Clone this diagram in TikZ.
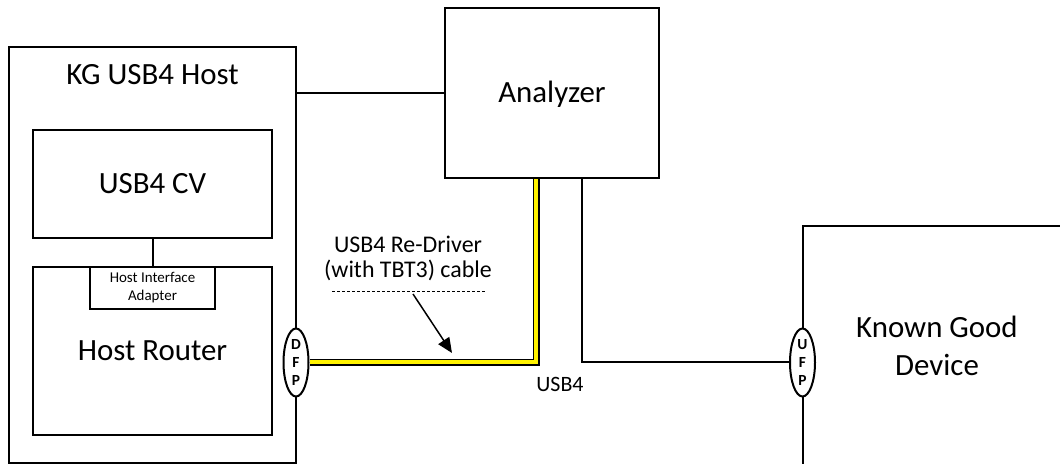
\documentclass[tikz,border=0pt]{standalone}
\usepackage{fontspec}
\setmainfont{Carlito}
\usetikzlibrary{arrows.meta,shapes.geometric}
\tikzset{
  box/.style={draw=black, line width=2bp, fill=white, inner sep=0pt},
  port/.style={draw=black, line width=2bp, fill=white, ellipse, inner sep=0pt,
    minimum width=25bp, minimum height=68bp,
    font=\fontsize{15.5}{18.5}\selectfont\bfseries, align=center},
  bigtxt/.style={font=\fontsize{31}{38}\selectfont, inner sep=0pt, align=center},
  midtxt/.style={font=\fontsize{24}{25}\selectfont, inner sep=0pt, align=center},
  usbtxtstyle/.style={font=\fontsize{22}{25}\selectfont, inner sep=0pt, align=center},
  smalltxt/.style={font=\fontsize{15}{18}\selectfont, inner sep=0pt, align=center},
  link/.style={draw=black, line width=2bp},
  cable/.style={draw=black, line width=1.5bp, double=yellow, double distance=4bp},
  pointer/.style={draw=black, line width=1.5bp, -{Triangle[length=15bp,width=13bp]}},
  guide/.style={draw=black, line width=1bp, dash pattern=on 3bp off 2bp}
}
\begin{document}
\begin{tikzpicture}[x=1bp,y=-1bp]
\clip (0,0) rectangle (1060,464);
\fill[white] (0,0) rectangle (1060,464);
% boxes
\node[box, minimum width=287bp, minimum height=416bp] (host) at (152.5,255) {};
\node[box, minimum width=239bp, minimum height=108bp] (cv) at (152.5,184) {};
\node[box, minimum width=239bp, minimum height=168bp] (router) at (152.5,351) {};
\node[box, minimum width=125bp, minimum height=42bp] (hia) at (152.5,288) {};
\node[box, minimum width=214bp, minimum height=170bp] (analyzer) at (552,93) {};
\node[box, minimum width=268bp, minimum height=274bp] (kgd) at (937,363) {};
% texts
\node[bigtxt, anchor=base] (hosttxt) at (152.5,85) {KG USB4 Host};
\node[bigtxt, anchor=base] (cvtxt) at (152.5,194) {USB4 CV};
\node[bigtxt, anchor=base] (routertxt) at (152.5,361) {Host Router};
\node[smalltxt] (hiatxt) at (152.5,288) {Host Interface\\Adapter};
\node[bigtxt, anchor=base] (anatxt) at (552,103) {Analyzer};
\node[bigtxt] (kgdtxt) at (937,346) {Known Good\\Device};
\node[midtxt] (cabletxt) at (408,258) {USB4 Re-Driver\\(with TBT3) cable};
\node[usbtxtstyle, anchor=base] (usbtxt) at (560,392) {USB4};
% connectors
\draw[link] (analyzer.west -| host.east) -- (analyzer.west);
\draw[link] (cv.south) -- (hia.north);
\coordinate (cabletop) at ([xshift=-16bp]analyzer.south);
\coordinate (linktop) at ([xshift=30bp]analyzer.south);
% ports
\node[port] (dfp) at (296,362.5) {D\\F\\P};
\node[port] (ufp) at (802.5,362.5) {U\\F\\P};
\draw[cable] (dfp.east) -| (cabletop);
\draw[link] (linktop) |- (ufp.west);
% cable callout
\coordinate (g1) at (332,292);
\coordinate (g2) at (485,292);
\draw[guide] (g1) -- (g2);
\coordinate (ps) at (413,294);
\coordinate (pe) at (452,353);
\draw[pointer] (ps) -- (pe);
\end{tikzpicture}
\end{document}
